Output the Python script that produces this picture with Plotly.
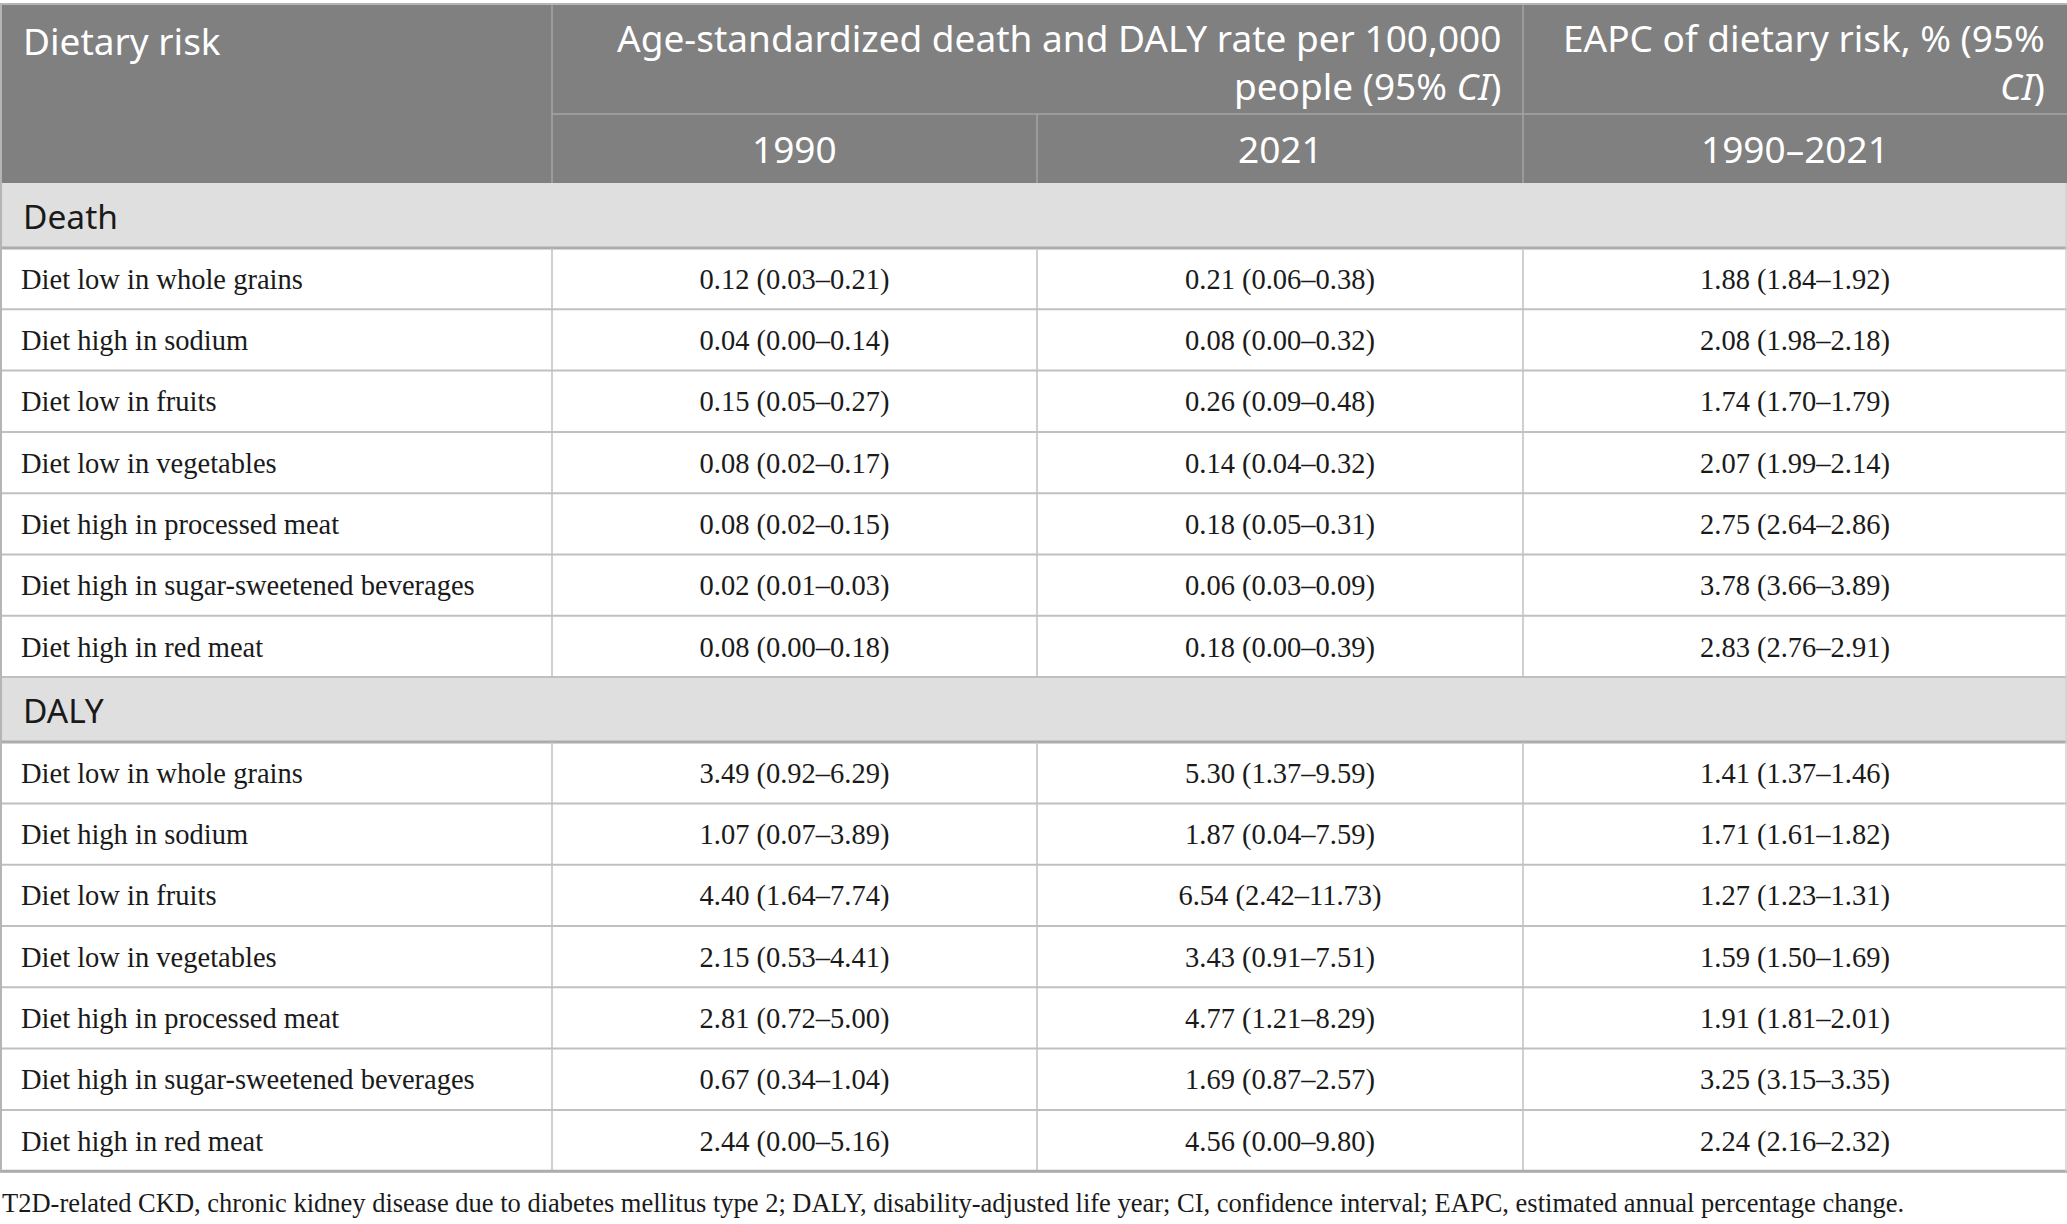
import plotly.graph_objects as go

# table content
risks = [
    "Diet low in whole grains",
    "Diet high in sodium",
    "Diet low in fruits",
    "Diet low in vegetables",
    "Diet high in processed meat",
    "Diet high in sugar-sweetened beverages",
    "Diet high in red meat",
]
sections = ["Death", "DALY"]

death_1990 = ["0.12 (0.03–0.21)", "0.04 (0.00–0.14)", "0.15 (0.05–0.27)", "0.08 (0.02–0.17)",
              "0.08 (0.02–0.15)", "0.02 (0.01–0.03)", "0.08 (0.00–0.18)"]
death_2021 = ["0.21 (0.06–0.38)", "0.08 (0.00–0.32)", "0.26 (0.09–0.48)", "0.14 (0.04–0.32)",
              "0.18 (0.05–0.31)", "0.06 (0.03–0.09)", "0.18 (0.00–0.39)"]
death_eapc = ["1.88 (1.84–1.92)", "2.08 (1.98–2.18)", "1.74 (1.70–1.79)", "2.07 (1.99–2.14)",
              "2.75 (2.64–2.86)", "3.78 (3.66–3.89)", "2.83 (2.76–2.91)"]

daly_1990 = ["3.49 (0.92–6.29)", "1.07 (0.07–3.89)", "4.40 (1.64–7.74)", "2.15 (0.53–4.41)",
             "2.81 (0.72–5.00)", "0.67 (0.34–1.04)", "2.44 (0.00–5.16)"]
daly_2021 = ["5.30 (1.37–9.59)", "1.87 (0.04–7.59)", "6.54 (2.42–11.73)", "3.43 (0.91–7.51)",
             "4.77 (1.21–8.29)", "1.69 (0.87–2.57)", "4.56 (0.00–9.80)"]
daly_eapc = ["1.41 (1.37–1.46)", "1.71 (1.61–1.82)", "1.27 (1.23–1.31)", "1.59 (1.50–1.69)",
             "1.91 (1.81–2.01)", "3.25 (3.15–3.35)", "2.24 (2.16–2.32)"]

header_top = ["Dietary risk",
              "Age-standardized death and DALY rate per 100,000<br>people (95% <i>CI</i>)",
              "EAPC of dietary risk, % (95%<br><i>CI</i>)"]
header_sub = ["1990", "2021", "1990–2021"]
footnote = ("T2D-related CKD, chronic kidney disease due to diabetes mellitus type 2; DALY, "
            "disability-adjusted life year; CI, confidence interval; EAPC, estimated annual percentage change.")

# layout geometry (pixels)
W, H = 2067, 1224
cols = [0, 552, 1037, 1523, 2067]
y_top, y_mid, y_head = 4, 114, 183
sec_h, row_h = 65, 61.3

HEAD_BG = "#7f807f"
SEC_BG = "#e0dfe0"
LINE = "#c0c0c0"
SANS = "Noto Sans"
SERIF = "Liberation Serif"
HFONT = dict(family=SANS, size=37, color="white")

fig = go.Figure()
shapes = []
annotations = []

# header block
shapes.append(dict(type="rect", x0=0, x1=W, y0=y_top, y1=y_head, fillcolor=HEAD_BG,
                   line=dict(width=0), layer="below"))
for x in cols[1:-1]:
    y0 = y_top if x != cols[2] else y_mid
    shapes.append(dict(type="line", x0=x, x1=x, y0=y0, y1=y_head, line=dict(color="#a3a4a3", width=1.5)))
shapes.append(dict(type="line", x0=cols[1], x1=W, y0=y_mid, y1=y_mid, line=dict(color="#a3a4a3", width=1.5)))
shapes.append(dict(type="line", x0=0, x1=W, y0=y_top, y1=y_top, line=dict(color="#b5b5b5", width=2)))

annotations.append(dict(x=21, y=40, text=header_top[0], xanchor="left", yanchor="middle",
                        showarrow=False, font=HFONT))
for t, x in [(header_top[1], cols[3] - 20), (header_top[2], W - 20)]:
    annotations.append(dict(x=x, y=61, text=t, xanchor="right", yanchor="middle", align="right",
                            showarrow=False, font=HFONT))
for i, t in enumerate(header_sub):
    annotations.append(dict(x=(cols[i + 1] + cols[i + 2]) / 2, y=(y_mid + y_head) / 2, text=t,
                            xanchor="center", yanchor="middle", showarrow=False, font=HFONT))

# body sections
blocks = [(death_1990, death_2021, death_eapc), (daly_1990, daly_2021, daly_eapc)]
y = y_head
for name, (c1, c2, c3) in zip(sections, blocks):
    shapes.append(dict(type="rect", x0=0, x1=W, y0=y, y1=y + sec_h, fillcolor=SEC_BG,
                       line=dict(width=0), layer="below"))
    annotations.append(dict(x=21, y=y + sec_h / 2, text=name, xanchor="left", yanchor="middle",
                            showarrow=False, font=dict(family=SANS, size=33.5, color="#1a1a1a")))
    y += sec_h
    shapes.append(dict(type="line", x0=0, x1=W, y0=y, y1=y, line=dict(color="#acacac", width=3)))
    ys = [y + row_h * (k + 0.5) + 3 for k in range(len(risks))]
    fig.add_trace(go.Scatter(x=[21] * len(risks), y=ys, text=risks, mode="text",
                             textposition="middle right",
                             textfont=dict(family=SERIF, size=28.5, color="#1a1a1a"),
                             hoverinfo="skip", showlegend=False))
    for j, vals in enumerate([c1, c2, c3]):
        xc = (cols[j + 1] + cols[j + 2]) / 2
        fig.add_trace(go.Scatter(x=[xc] * len(vals), y=ys, text=vals, mode="text",
                                 textposition="middle center",
                                 textfont=dict(family=SERIF, size=28.5, color="#1a1a1a"),
                                 hoverinfo="skip", showlegend=False))
    for x in cols[1:-1]:
        shapes.append(dict(type="line", x0=x, x1=x, y0=y, y1=y + row_h * len(risks),
                           line=dict(color=LINE, width=1.5)))
    for k in range(1, len(risks) + 1):
        yy = y + row_h * k
        shapes.append(dict(type="line", x0=0, x1=W, y0=yy, y1=yy, line=dict(color=LINE, width=2)))
    y += row_h * len(risks)

y_bottom = y
shapes.append(dict(type="line", x0=0, x1=W, y0=y_bottom, y1=y_bottom, line=dict(color="#acacac", width=3)))
shapes.append(dict(type="line", x0=1, x1=1, y0=y_top, y1=y_bottom, line=dict(color="#b5b5b5", width=2)))
shapes.append(dict(type="line", x0=W - 1, x1=W - 1, y0=y_head, y1=y_bottom, line=dict(color="#d0d0d0", width=1.5)))

annotations.append(dict(x=0, y=1203, text=footnote, xanchor="left", yanchor="middle", showarrow=False,
                        font=dict(family=SERIF, size=26.5, color="#1a1a1a")))

fig.update_layout(
    width=W, height=H,
    margin=dict(l=0, r=0, t=0, b=0),
    paper_bgcolor="white", plot_bgcolor="white",
    xaxis=dict(range=[0, W], visible=False, fixedrange=True),
    yaxis=dict(range=[H, 0], visible=False, fixedrange=True),
    shapes=shapes, annotations=annotations,
)

# drop the browser's default page margin so the figure sits at the window origin
fig.write_html("out.html", config={"displayModeBar": False},
               post_script="document.body.style.margin='0';")
